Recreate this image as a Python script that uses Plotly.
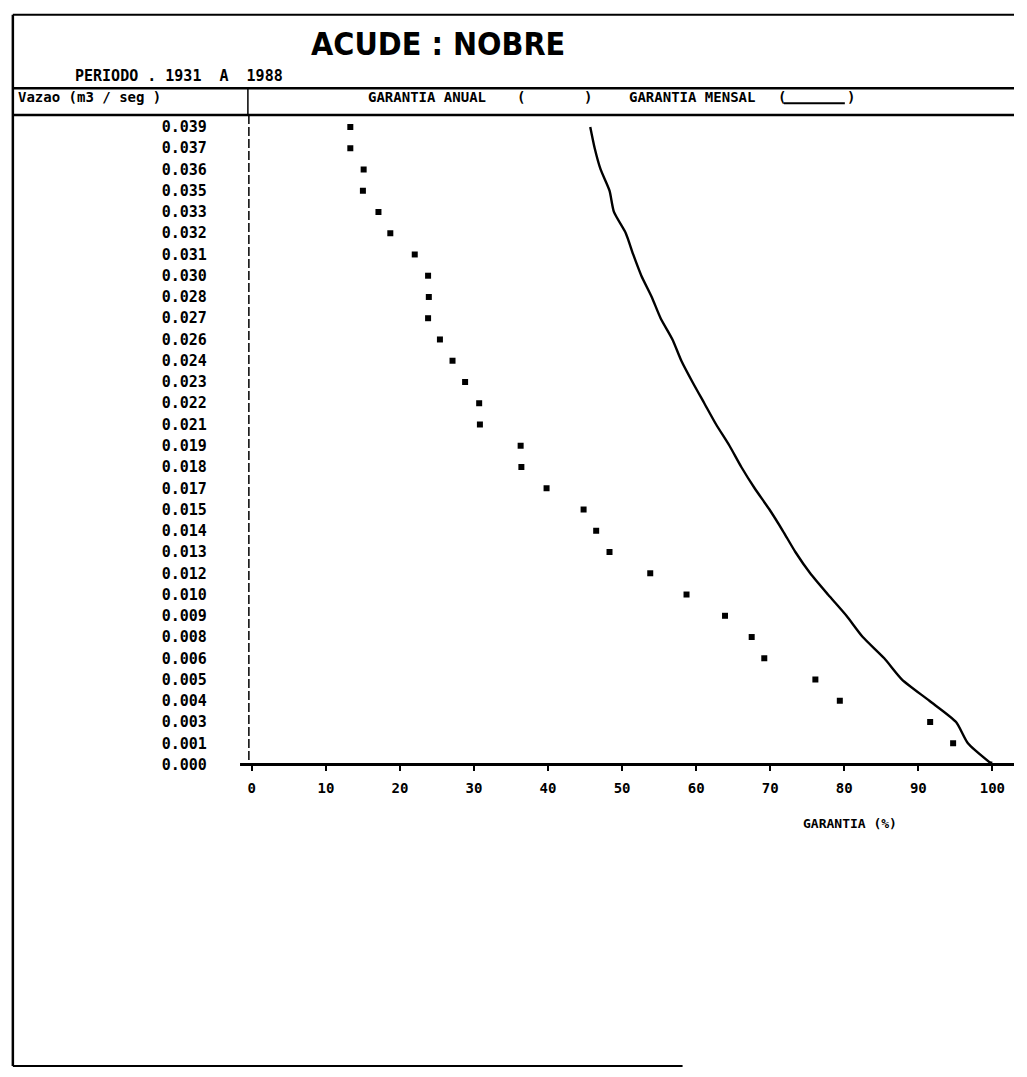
import plotly.graph_objects as go

# ---------------- data ----------------
vazao = ["0.039", "0.037", "0.036", "0.035", "0.033", "0.032", "0.031", "0.030",
         "0.028", "0.027", "0.026", "0.024", "0.023", "0.022", "0.021", "0.019",
         "0.018", "0.017", "0.015", "0.014", "0.013", "0.012", "0.010", "0.009",
         "0.008", "0.006", "0.005", "0.004", "0.003", "0.001", "0.000"]

garantia_anual = [13.3, 13.3, 15.1, 15.0, 17.1, 18.7, 22.0, 23.8, 23.9, 23.8,
                  25.4, 27.1, 28.8, 30.7, 30.8, 36.3, 36.4, 39.8, 44.8, 46.5,
                  48.3, 53.8, 58.7, 63.9, 67.5, 69.2, 76.1, 79.4, 91.6, 94.7, 100.0]

garantia_mensal = [45.7, 46.3, 47.1, 48.3, 48.9, 50.5, 51.5, 52.6, 54.0, 55.2,
                   56.8, 58.0, 59.5, 61.1, 62.7, 64.5, 66.1, 67.9, 69.9, 71.7,
                   73.4, 75.4, 77.8, 80.3, 82.5, 85.4, 87.8, 91.5, 95.1, 96.7, 100.0]

x_ticks = [0, 10, 20, 30, 40, 50, 60, 70, 80, 90, 100]

# ---------------- layout helpers ----------------
W, H = 1027, 1077
def px(x):
    return x / W
def py(y):
    return 1 - y / H

MONO = "DejaVu Sans Mono"

fig = go.Figure()

fig.add_trace(go.Scatter(
    x=garantia_mensal, y=vazao, mode="lines",
    line=dict(color="black", width=2.4, shape="spline", smoothing=0.6),
    name="GARANTIA MENSAL", showlegend=False,
))
fig.add_trace(go.Scatter(
    x=garantia_anual, y=vazao, mode="markers",
    marker=dict(color="black", symbol="square", size=6),
    name="GARANTIA ANUAL", showlegend=False,
))

fig.update_layout(
    width=W, height=H,
    margin=dict(l=0, r=0, t=0, b=0),
    paper_bgcolor="white", plot_bgcolor="white",
    xaxis=dict(
        domain=[px(252), px(1005)], range=[0, 100],
        tickvals=x_ticks, ticktext=[str(v) for v in x_ticks],
        ticks="outside", ticklen=5, tickwidth=2, tickcolor="black",
        ticklabelstandoff=6,
        showline=False, showgrid=False, zeroline=False,
        tickfont=dict(family=MONO, size=14, color="black", weight="bold"),
        fixedrange=True,
    ),
    yaxis=dict(
        domain=[py(771), py(116)],
        type="category", categoryorder="array", categoryarray=vazao,
        range=[30, -0.56],
        tickvals=vazao, ticktext=vazao,
        ticks="", showline=False, showgrid=False, zeroline=False,
        ticklabelstandoff=44,
        tickfont=dict(family=MONO, size=15, color="black", weight="bold"),
        fixedrange=True,
    ),
)

shapes = []
def pline(x0, y0, x1, y1, w=2, dash=None):
    d = dict(type="line", xref="paper", yref="paper",
             x0=px(x0), y0=py(y0), x1=px(x1), y1=py(y1),
             line=dict(color="black", width=w))
    if dash:
        d["line"]["dash"] = dash
    shapes.append(d)

pline(9, 15, 1027, 15, 2)          # top frame
pline(9, 15, 9, 1075, 2.5)         # left frame
pline(9, 1075, 690, 1075, 2)       # bottom frame
pline(9, 89, 1027, 89, 2.5)        # header top
pline(9, 116, 1027, 116, 2.5)      # header bottom
pline(248, 89, 248, 116, 1.5)      # header divider
pline(249, 116, 249, 771, 1.5, dash="9px,3px")  # y axis
pline(240, 771, 1027, 771, 3)      # x axis
pline(793, 104, 855, 104, 2)       # legend line for mensal
fig.update_layout(shapes=shapes)

ann = []
def text(t, x, y, size, anchor="left", family=MONO, weight="bold"):
    ann.append(dict(text=t, xref="paper", yref="paper", x=px(x), y=py(y),
                    xanchor=anchor, yanchor="middle", showarrow=False,
                    font=dict(family=family, size=size, color="black", weight=weight)))

text("ACUDE : NOBRE", 441, 44, 32, anchor="center",
     family="Liberation Sans Narrow, DejaVu Sans Condensed")
text("PERIODO . 1931  A  1988", 70, 77, 15)
text("Vazao (m3 / seg )", 12, 98, 14)
text("GARANTIA ANUAL", 368, 98, 14)
text("(", 520, 98, 14)
text(")", 588, 98, 14)
text("GARANTIA MENSAL", 633, 98, 14)
text("(", 785, 98, 14)
text(")", 855, 98, 14)
text("GARANTIA (%)", 810, 830, 13)
fig.update_layout(annotations=ann)

fig.write_html("out.html")
